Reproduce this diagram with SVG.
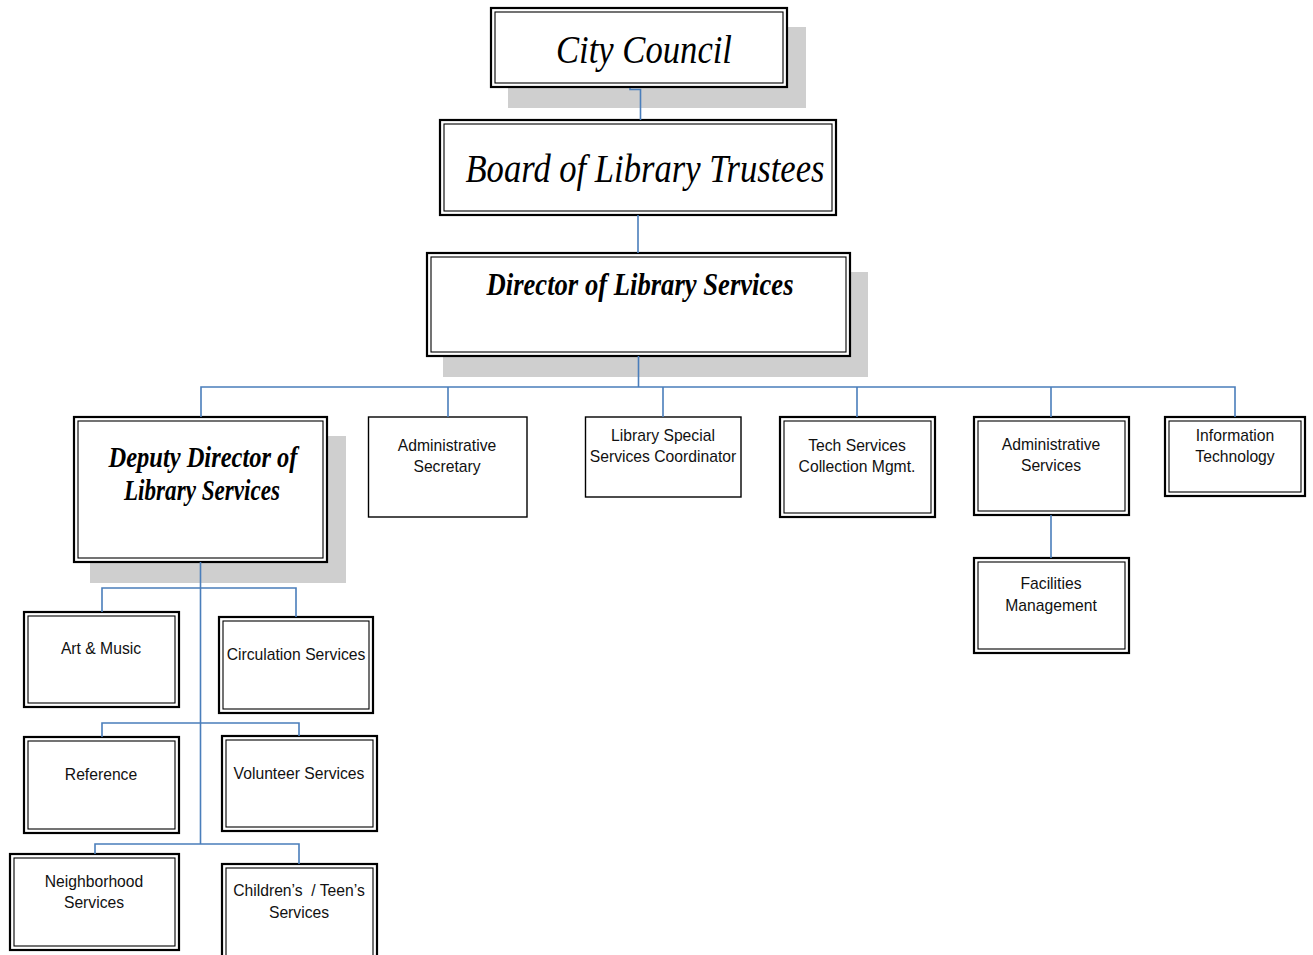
<svg xmlns="http://www.w3.org/2000/svg" width="1313" height="955" viewBox="0 0 1313 955">
  <style>
    .bg { fill: #ffffff; }
    .shadow { fill: #cfcfcf; }
    .outer { fill: #ffffff; stroke: #000000; stroke-width: 2.2; }
    .inner { fill: none; stroke: #000000; stroke-width: 1.1; }
    .single { fill: #ffffff; stroke: #000000; stroke-width: 1.4; }
    .script { font-family: "Liberation Serif", "DejaVu Serif", serif; font-style: italic; fill: #000000; text-anchor: middle; }
    .script-b { font-family: "Liberation Serif", "DejaVu Serif", serif; font-style: italic; font-weight: bold; fill: #000000; text-anchor: middle; }
    .label { font-family: "Liberation Sans", Arial, sans-serif; font-size: 15.7px; fill: #111111; text-anchor: middle; }
    .conn { fill: none; stroke: #4a7ebb; stroke-width: 1.6; }
  </style>
  <rect class="bg" x="0" y="0" width="1313" height="955"/>

  <!-- top of the hierarchy -->
  <g id="city-council">
    <rect class="shadow" x="508" y="27" width="298" height="81"/>
    <rect class="outer" x="491" y="8" width="296" height="79"/>
    <rect class="inner" x="495" y="12" width="288" height="71"/>
    <text class="script" x="644" y="63" font-size="40" textLength="176" lengthAdjust="spacingAndGlyphs">City Council</text>
  </g>

  <g id="board-of-trustees">
    <rect class="outer" x="440" y="120" width="396" height="95"/>
    <rect class="inner" x="444" y="124" width="388" height="87"/>
    <text class="script" x="645" y="182" font-size="40" textLength="359" lengthAdjust="spacingAndGlyphs">Board of Library Trustees</text>
  </g>

  <g id="director">
    <rect class="shadow" x="443" y="272" width="425" height="105"/>
    <rect class="outer" x="427" y="253" width="423" height="103"/>
    <rect class="inner" x="431" y="257" width="415" height="95"/>
    <text class="script-b" x="640" y="295" font-size="32" textLength="307" lengthAdjust="spacingAndGlyphs">Director of Library Services</text>
  </g>

  <!-- direct reports of the director -->
  <g id="deputy-director">
    <rect class="shadow" x="90" y="436" width="256" height="147"/>
    <rect class="outer" x="74" y="417" width="253" height="145"/>
    <rect class="inner" x="78" y="421" width="245" height="137"/>
    <text class="script-b" x="203" y="467" font-size="30" textLength="189" lengthAdjust="spacingAndGlyphs">Deputy Director of</text>
    <text class="script-b" x="202" y="500" font-size="30" textLength="156" lengthAdjust="spacingAndGlyphs">Library Services</text>
  </g>

  <g id="admin-secretary">
    <rect class="single" x="368.5" y="417" width="158.5" height="100"/>
    <text class="label" x="447" y="451">Administrative</text>
    <text class="label" x="447" y="472">Secretary</text>
  </g>

  <g id="special-services">
    <rect class="single" x="585.5" y="417" width="155.5" height="80"/>
    <text class="label" x="663" y="441">Library Special</text>
    <text class="label" x="663" y="462">Services Coordinator</text>
  </g>

  <g id="tech-services">
    <rect class="outer" x="780" y="417" width="155" height="100"/>
    <rect class="inner" x="784" y="421" width="147" height="92"/>
    <text class="label" x="857" y="451">Tech Services</text>
    <text class="label" x="857" y="472">Collection Mgmt.</text>
  </g>

  <g id="admin-services">
    <rect class="outer" x="974" y="417" width="155" height="98"/>
    <rect class="inner" x="978" y="421" width="147" height="90"/>
    <text class="label" x="1051" y="450">Administrative</text>
    <text class="label" x="1051" y="471">Services</text>
  </g>

  <g id="information-technology">
    <rect class="outer" x="1165" y="417" width="140" height="79"/>
    <rect class="inner" x="1169" y="421" width="132" height="71"/>
    <text class="label" x="1235" y="441">Information</text>
    <text class="label" x="1235" y="462">Technology</text>
  </g>

  <g id="facilities">
    <rect class="outer" x="974" y="558" width="155" height="95"/>
    <rect class="inner" x="978" y="562" width="147" height="87"/>
    <text class="label" x="1051" y="589">Facilities</text>
    <text class="label" x="1051" y="611">Management</text>
  </g>

  <!-- divisions under the deputy director -->
  <g id="art-music">
    <rect class="outer" x="24" y="612" width="155" height="95"/>
    <rect class="inner" x="28" y="616" width="147" height="87"/>
    <text class="label" x="101" y="654">Art &amp; Music</text>
  </g>

  <g id="circulation">
    <rect class="outer" x="219" y="617" width="154" height="96"/>
    <rect class="inner" x="223" y="621" width="146" height="88"/>
    <text class="label" x="296" y="660">Circulation Services</text>
  </g>

  <g id="reference">
    <rect class="outer" x="24" y="737" width="155" height="96"/>
    <rect class="inner" x="28" y="741" width="147" height="88"/>
    <text class="label" x="101" y="780">Reference</text>
  </g>

  <g id="volunteer">
    <rect class="outer" x="222" y="736" width="155" height="95"/>
    <rect class="inner" x="226" y="740" width="147" height="87"/>
    <text class="label" x="299" y="779">Volunteer Services</text>
  </g>

  <g id="neighborhood">
    <rect class="outer" x="10" y="854" width="169" height="96"/>
    <rect class="inner" x="14" y="858" width="161" height="88"/>
    <text class="label" x="94" y="887">Neighborhood</text>
    <text class="label" x="94" y="908">Services</text>
  </g>

  <g id="childrens-teens">
    <rect class="outer" x="222" y="864" width="155" height="100"/>
    <rect class="inner" x="226" y="868" width="147" height="92"/>
    <text class="label" x="299" y="896">Children’s&#160; / Teen’s</text>
    <text class="label" x="299" y="918">Services</text>
  </g>

  <!-- reporting lines -->
  <g id="connectors">
    <path class="conn" d="M630,88 V89.5 H640.5 V120"/>
    <path class="conn" d="M638,215 V253"/>
    <path class="conn" d="M638.5,356 V387"/>
    <path class="conn" d="M201,417 V387 H1235 V417"/>
    <path class="conn" d="M448,387 V417"/>
    <path class="conn" d="M663,387 V417"/>
    <path class="conn" d="M857,387 V417"/>
    <path class="conn" d="M1051,387 V417"/>
    <path class="conn" d="M1051,515 V558"/>
    <path class="conn" d="M200.5,562 V844"/>
    <path class="conn" d="M102,612 V588 H296 V617"/>
    <path class="conn" d="M102,737 V723 H299 V736"/>
    <path class="conn" d="M95,854 V844 H299 V864"/>
  </g>
</svg>
